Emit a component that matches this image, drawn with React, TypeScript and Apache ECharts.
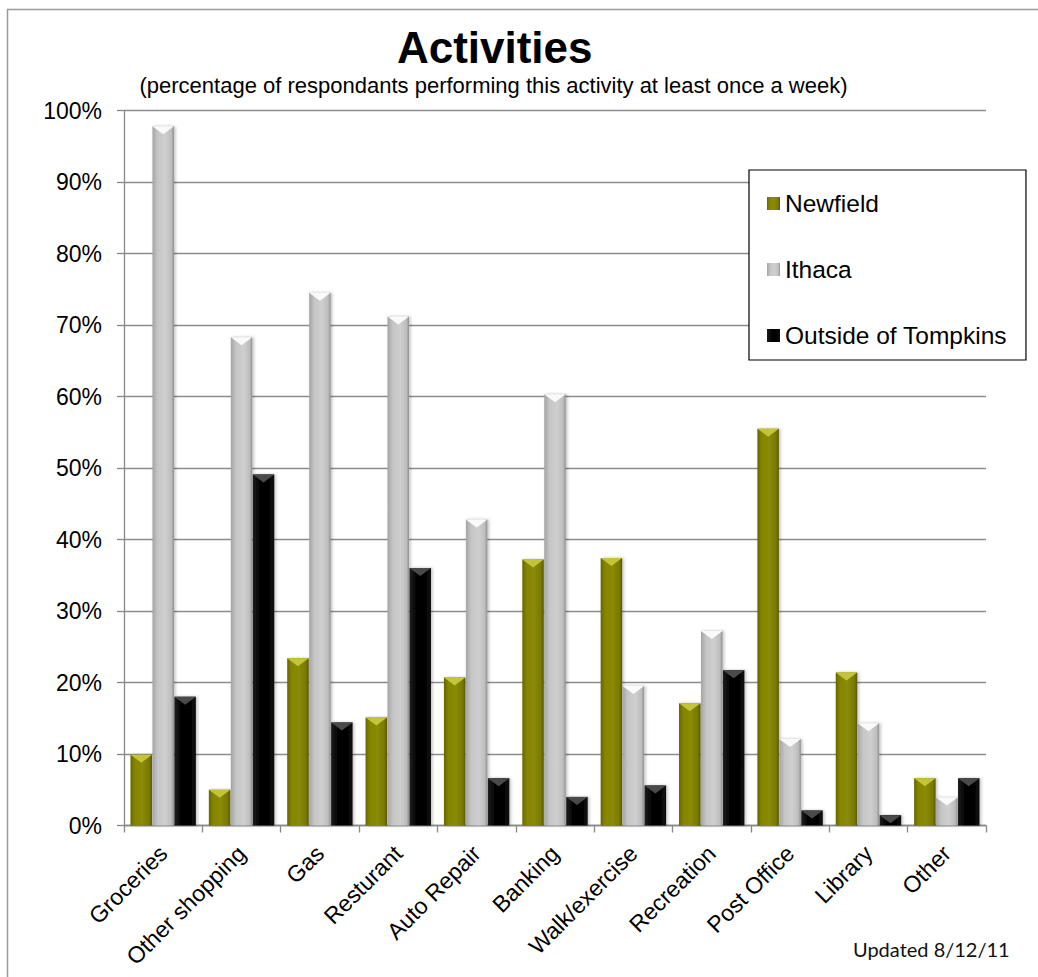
import React, { useEffect, useRef } from "react";
import * as echarts from "echarts";

const categories = [
  "Groceries",
  "Other shopping",
  "Gas",
  "Resturant",
  "Auto Repair",
  "Banking",
  "Walk/exercise",
  "Recreation",
  "Post Office",
  "Library",
  "Other",
];
const newfield = [9.9, 5.0, 23.4, 15.1, 20.7, 37.2, 37.4, 17.1, 55.5, 21.4, 6.6];
const ithaca = [97.8, 68.3, 74.5, 71.2, 42.8, 60.3, 19.5, 27.2, 12.1, 14.3, 3.9];
const outside = [18.0, 49.1, 14.4, 36.0, 6.6, 4.0, 5.6, 21.7, 2.1, 1.45, 6.6];
const seriesNames = ["Newfield", "Ithaca", "Outside of Tompkins"];
const yTicks = [0, 10, 20, 30, 40, 50, 60, 70, 80, 90, 100];

const FONT = "'Liberation Sans', Arial, Helvetica, sans-serif";
const BAR_W = 21.5;
const BAR_GAP = 0.45;

function grad(stops: [number, string][]) {
  return new echarts.graphic.LinearGradient(
    0, 0, 1, 0,
    stops.map(([offset, color]) => ({ offset, color }))
  );
}

const fills = [
  grad([[0, "#666600"], [0.2, "#858500"], [0.55, "#8a8a08"], [0.85, "#7a7a00"], [1, "#5a5a00"]]),
  grad([[0, "#a4a4a4"], [0.25, "#c6c6c6"], [0.6, "#cfcfcf"], [0.88, "#bdbdbd"], [1, "#8e8e8e"]]),
  grad([[0, "#1e1e1e"], [0.3, "#050505"], [0.7, "#000000"], [1, "#111111"]]),
];
const bevelColors = ["#c4c43a", "#fafafa", "#4a4a4a"];

function bevelSeries(values: number[], idx: number) {
  const offset = (idx - 1) * (BAR_W + BAR_GAP);
  return {
    type: "custom",
    name: seriesNames[idx] + " bevel",
    silent: true,
    z: 3,
    data: values.map((v, i) => [i, v]),
    encode: { x: 0, y: 1 },
    renderItem: (params: any, api: any) => {
      const top = api.coord([api.value(0), api.value(1)]);
      const x = top[0] + offset - BAR_W / 2;
      const h = 8;
      return {
        type: "polygon",
        shape: {
          points: [
            [x, top[1]],
            [x + BAR_W, top[1]],
            [x + BAR_W / 2, top[1] + h],
          ],
        },
        style: { fill: bevelColors[idx] },
      };
    },
  };
}

export default function App() {
  const ref = useRef<HTMLDivElement>(null);
  useEffect(() => {
    if (!ref.current) return;
    const chart = echarts.init(ref.current, null, { renderer: "svg" });
    const values = [newfield, ithaca, outside];
    const option: any = {
      animation: false,
      backgroundColor: "#ffffff",
      textStyle: { fontFamily: FONT },
      grid: { left: 124, top: 110.5, right: 52, bottom: 151.5, containLabel: false },
      legend: {
        data: seriesNames,
        orient: "vertical",
        left: 749,
        top: 170,
        padding: [21, 19, 12, 18],
        itemGap: 41,
        itemWidth: 13,
        itemHeight: 13,
        icon: "rect",
        borderColor: "#000",
        borderWidth: 1.2,
        backgroundColor: "#fff",
        textStyle: { fontSize: 24.5, color: "#000", fontFamily: FONT },
      },
      xAxis: {
        type: "category",
        data: categories,
        axisLine: { show: true, lineStyle: { color: "#888", width: 1.3 } },
        axisTick: { show: true, length: 7, lineStyle: { color: "#888", width: 1.3 } },
        axisLabel: {
          interval: 0,
          rotate: 45,
          margin: 24,
          fontSize: 23,
          color: "#000",
          fontFamily: FONT,
        },
      },
      yAxis: {
        type: "value",
        min: yTicks[0],
        max: yTicks[yTicks.length - 1],
        interval: 10,
        axisLine: { show: true, lineStyle: { color: "#888", width: 1.3 } },
        axisTick: { show: true, length: 7, lineStyle: { color: "#888", width: 1.3 } },
        axisLabel: {
          formatter: "{value}%",
          margin: 22,
          fontSize: 23,
          color: "#000",
          fontFamily: FONT,
        },
        splitLine: { show: true, lineStyle: { color: "#8c8c8c", width: 1.3 } },
      },
      series: [
        ...values.map((vals, idx) => ({
          type: "bar",
          name: seriesNames[idx],
          data: vals,
          barWidth: BAR_W,
          barGap: (BAR_GAP / BAR_W) * 100 + "%",
          itemStyle: {
            color: fills[idx],
            shadowColor: "rgba(0,0,0,0.25)",
            shadowBlur: 3,
            shadowOffsetX: 1.5,
          },
        })),
        ...values.map((vals, idx) => bevelSeries(vals, idx)),
      ],
      graphic: [
        {
          type: "rect",
          silent: true,
          z: -10,
          shape: { x: 7.5, y: 9.5, width: 1040, height: 1000 },
          style: { fill: "none", stroke: "#9a9a9a", lineWidth: 1.5 },
        },
        {
          type: "text",
          x: 494.7,
          y: 47.8,
          style: {
            text: "Activities",
            fill: "#000",
            font: `bold 44px ${FONT}`,
            textAlign: "center",
            textVerticalAlign: "middle",
          },
        },
        {
          type: "text",
          x: 493.5,
          y: 85.6,
          style: {
            text: "(percentage of respondants performing this activity at least once a week)",
            fill: "#000",
            font: `22px ${FONT}`,
            textAlign: "center",
            textVerticalAlign: "middle",
          },
        },
        {
          type: "text",
          x: 853,
          y: 949,
          style: {
            text: "Updated 8/12/11",
            fill: "#111",
            font: `20px Lato, 'Open Sans', sans-serif`,
            textAlign: "left",
            textVerticalAlign: "middle",
          },
        },
      ],
    };
    chart.setOption(option);
    return () => chart.dispose();
  }, []);
  return (
    <div
      ref={ref}
      style={{ position: "fixed", left: 0, top: 0, width: 1038, height: 977 }}
    />
  );
}
